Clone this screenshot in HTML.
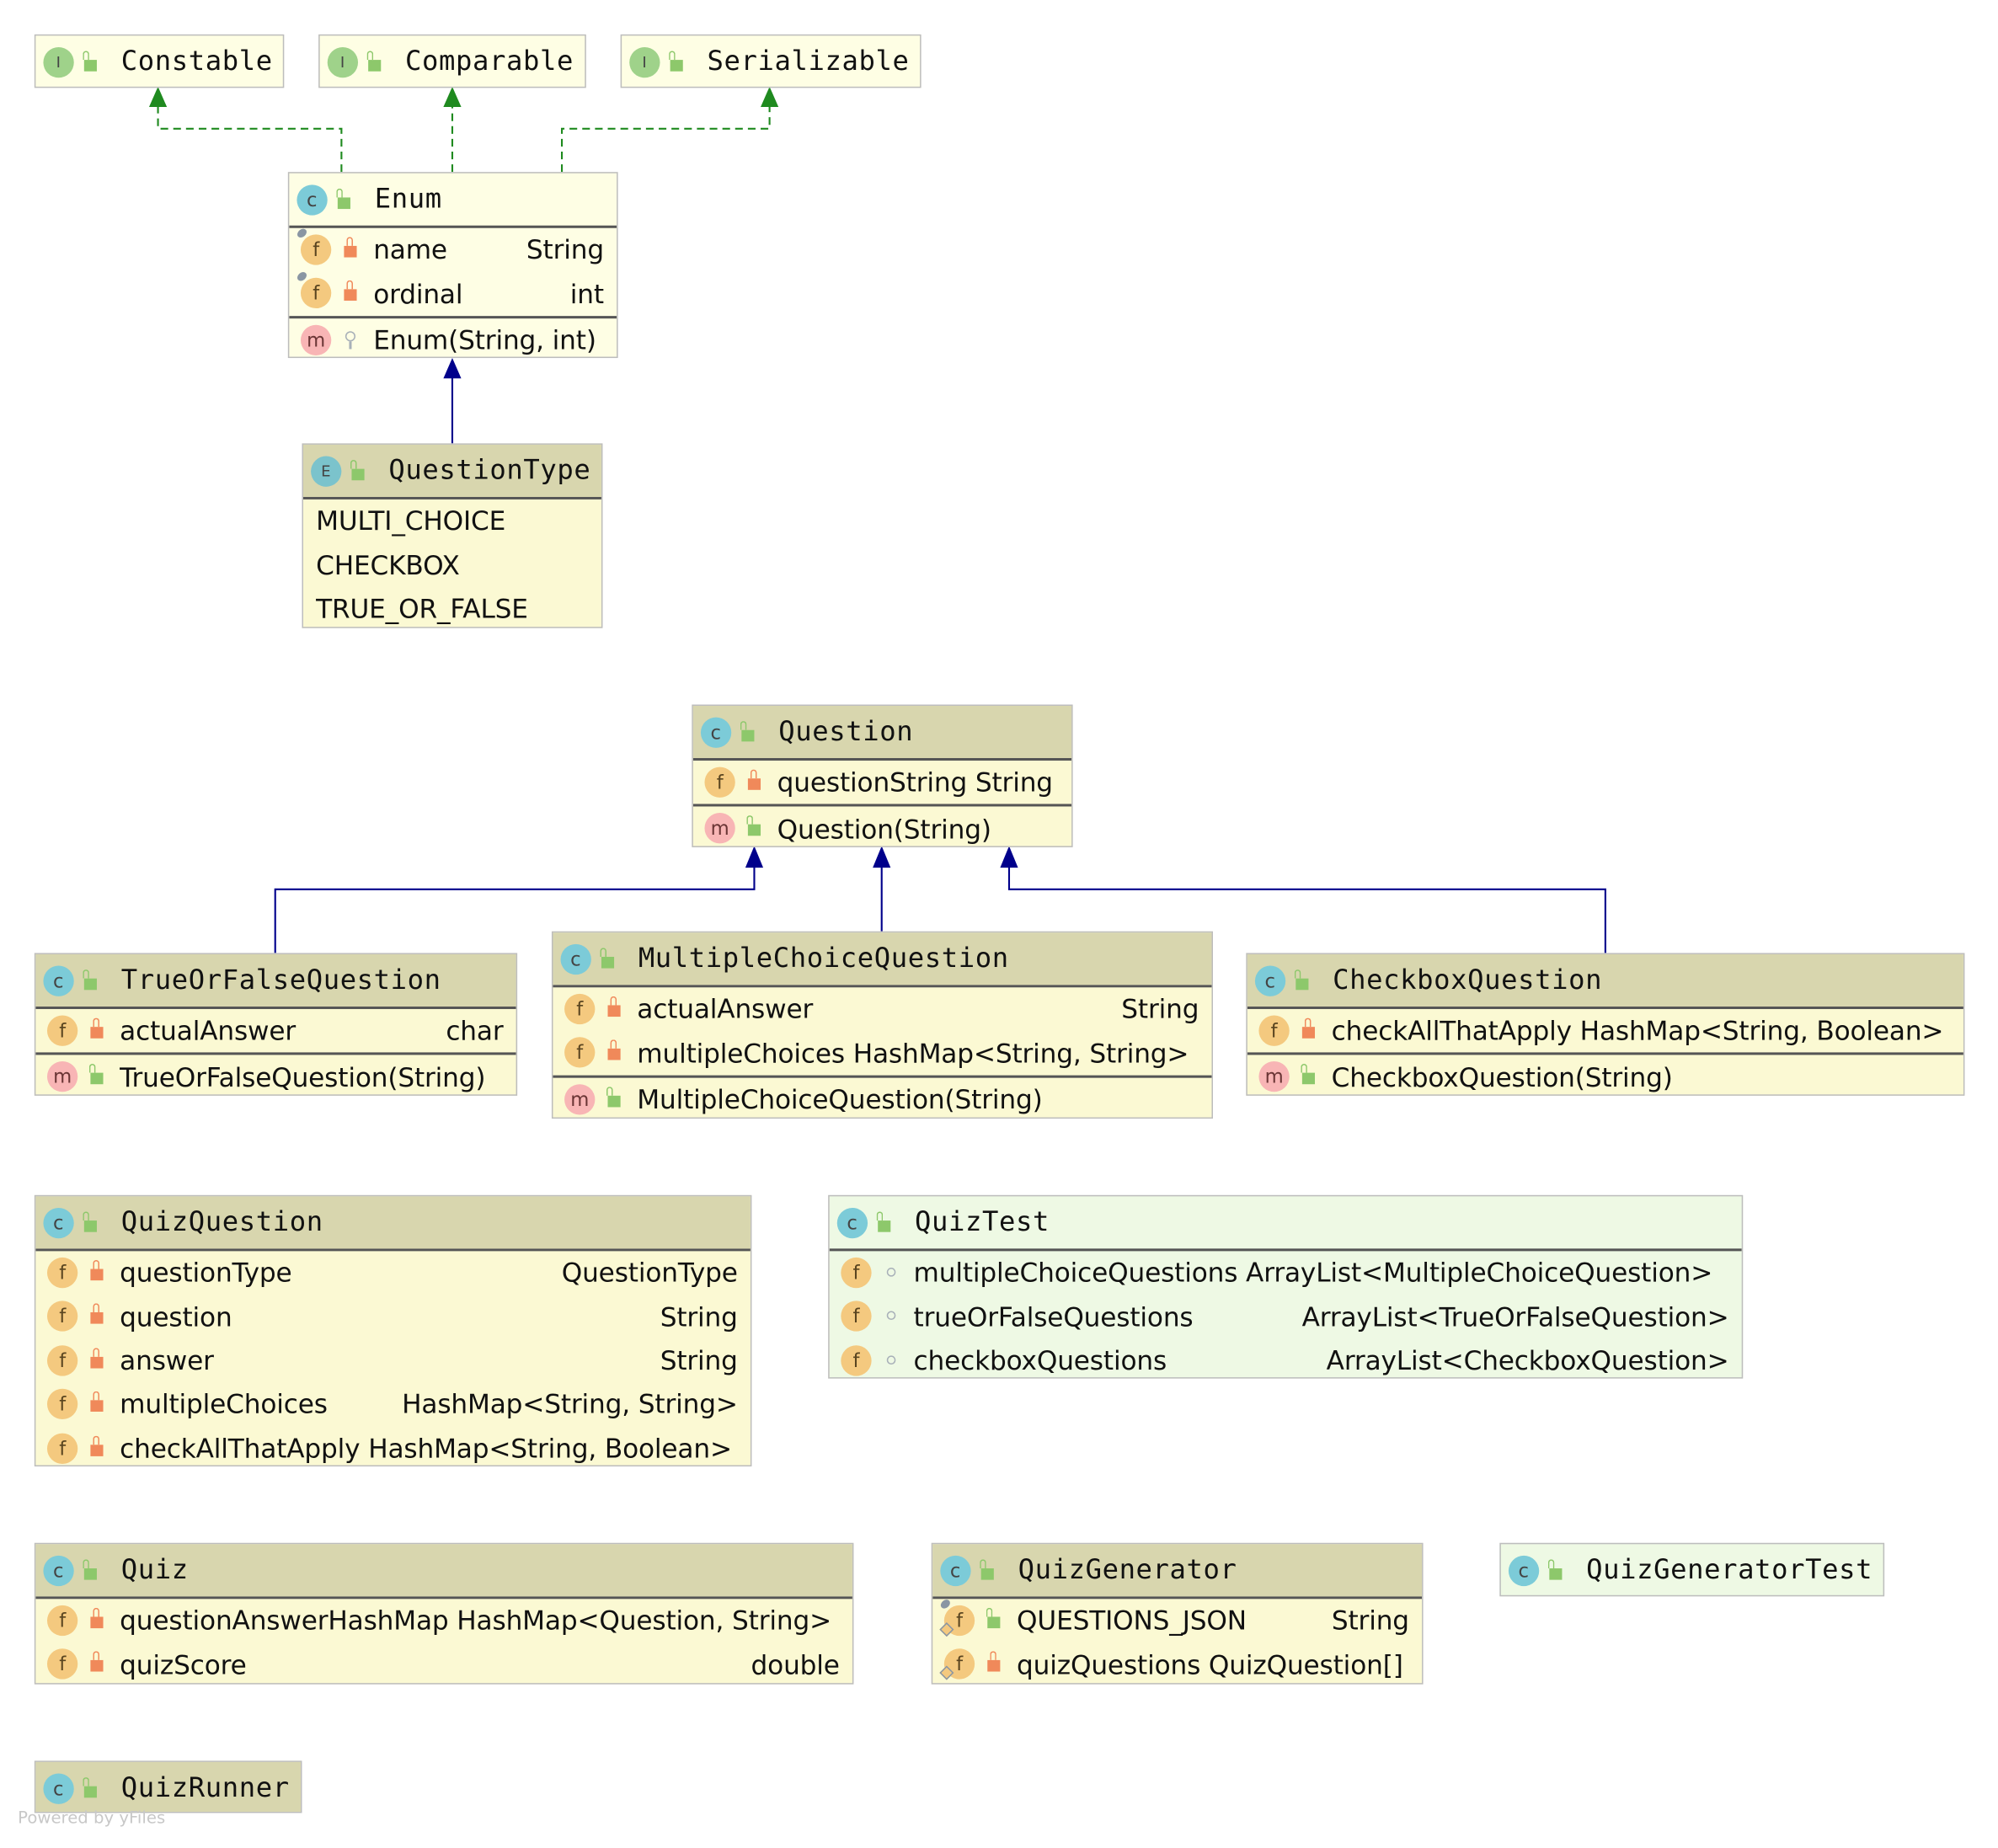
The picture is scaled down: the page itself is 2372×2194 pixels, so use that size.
<!DOCTYPE html>
<html><head><meta charset="utf-8"><style>
html,body{margin:0;padding:0;background:#fff;width:2372px;height:2194px;overflow:hidden}
#c{position:absolute;left:0;top:0;width:1570px;height:1450px;transform:scale(1.5126,1.5126);transform-origin:0 0}
.box{position:absolute;border:1px solid #bdbdbd;box-sizing:border-box;background:#fbf9d3;overflow:hidden}
.box.pale{background:#fefee4}
.box.test{background:#eef9e4}
.hd{height:41px;position:relative;background:#d8d6ae;font-family:"DejaVu Sans Mono","Liberation Mono",monospace;font-size:21.3px;line-height:41px;padding-left:67px;white-space:nowrap;color:#111;letter-spacing:0.4px}
.pale .hd,.test .hd{background:transparent}
.sep{border-top:2px solid #555}
.row{height:34.4px;position:relative;padding-left:66px;padding-right:10px;display:flex;justify-content:space-between;align-items:center;font-family:"DejaVu Sans","Liberation Sans",sans-serif;font-size:20.6px;letter-spacing:-0.1px;white-space:nowrap;color:#111}
.row.plain{padding-left:10px}
.ic{position:absolute;width:24px;height:24px;border-radius:50%;font-family:"DejaVu Sans",sans-serif;font-size:15px;line-height:24px;text-align:center;color:#444}
.hd .ic{left:6px;top:8.5px}
.row .ic{left:9px;top:5px}
.f{background:#f4c97f;color:#5a4520}
.m{background:#f8b5b5;color:#6a3535}
.C{background:#7ccbd8}
.I{background:#9fd28a;font-size:12px}
.E{background:#7bc3cc;font-size:12px}
.lk{position:absolute;width:10px;height:9px;background:#8dc86b}
.hd .lk{left:38px;top:19px}
.row .lk{left:43px;top:14px}
.lk::before{content:"";position:absolute;left:-1px;top:-7px;width:3px;height:6px;border:1.8px solid #8dc86b;border-bottom:none;border-radius:3px 3px 0 0}
.lk.p{background:#f0895a}
.lk.p::before{left:1.5px;border-color:#f0895a}
.dot{position:absolute;left:45px;top:13px;width:5px;height:5px;border:1.6px solid #a8b0b8;border-radius:50%}
.key{position:absolute;left:44px;top:10px;width:6px;height:6px;border:1.6px solid #a8b0b8;border-radius:50%}
.key::after{content:"";position:absolute;left:2px;top:7px;width:2px;height:6px;background:#a8b0b8}
.pin{position:absolute;left:-3px;top:-4px;width:8px;height:6px;background:#8a96a3;border-radius:50%;transform:rotate(-40deg)}
.dia{position:absolute;left:-2px;top:15px;width:6px;height:6px;border:1.5px solid #8a96a3;transform:rotate(45deg);background:#f4c97f}
#pw{position:absolute;left:14px;top:1420px;font-family:"DejaVu Sans","Liberation Sans",sans-serif;font-size:13px;color:#c8c8c8}
</style></head><body><div id="c">
<svg width="1570" height="1450" style="position:absolute;left:0;top:0">
<g fill="none" stroke="#1f8a1f" stroke-width="1.4" stroke-dasharray="6,4">
<polyline points="268,135 268,101 124,101 124,82"/>
<polyline points="355,135 355,82"/>
<polyline points="441,135 441,101 604,101 604,82"/>
</g>
<g fill="#1f8a1f"><polygon points="124,68 117,84 131,84"/><polygon points="355,68 348,84 362,84"/><polygon points="604,68 597,84 611,84"/></g>
<g fill="none" stroke="#00008b" stroke-width="1.4">
<polyline points="355,348 355,295"/>
<polyline points="592,680 592,698 216,698 216,748"/>
<polyline points="692,680 692,731"/>
<polyline points="792,680 792,698 1260,698 1260,748"/>
</g>
<g fill="#00008b"><polygon points="355,281 348,297 362,297"/><polygon points="592,664 585,681 599,681"/><polygon points="692,664 685,681 699,681"/><polygon points="792,664 785,681 799,681"/></g>
</svg>

<div class="box pale" style="left:27px;top:27px;width:196px;height:42px"><div class="hd"><span class="ic I">I</span><span class="lk"></span>Constable</div></div>
<div class="box pale" style="left:250px;top:27px;width:210px;height:42px"><div class="hd"><span class="ic I">I</span><span class="lk"></span>Comparable</div></div>
<div class="box pale" style="left:487px;top:27px;width:236px;height:42px"><div class="hd"><span class="ic I">I</span><span class="lk"></span>Serializable</div></div>

<div class="box pale" style="left:226px;top:135px;width:259px;height:146px"><div class="hd"><span class="ic C">c</span><span class="lk"></span>Enum</div>
<div class="sep"></div>
<div class="row"><span class="ic f">f<span class="pin"></span></span><span class="lk p"></span><span>name</span><span>String</span></div>
<div class="row"><span class="ic f">f<span class="pin"></span></span><span class="lk p"></span><span>ordinal</span><span>int</span></div>
<div class="sep"></div>
<div class="row"><span class="ic m">m</span><span class="key"></span><span>Enum(String, int)</span><span></span></div></div>

<div class="box" style="left:237px;top:348px;width:236px;height:145px"><div class="hd"><span class="ic E">E</span><span class="lk"></span>QuestionType</div>
<div class="sep"></div>
<div class="row plain"><span>MULTI_CHOICE</span></div>
<div class="row plain"><span>CHECKBOX</span></div>
<div class="row plain"><span>TRUE_OR_FALSE</span></div></div>

<div class="box" style="left:543px;top:553px;width:299px;height:112px"><div class="hd"><span class="ic C">c</span><span class="lk"></span>Question</div>
<div class="sep"></div>
<div class="row"><span class="ic f">f</span><span class="lk p"></span><span>questionString String</span></div>
<div class="sep"></div>
<div class="row"><span class="ic m">m</span><span class="lk"></span><span>Question(String)</span></div></div>

<div class="box" style="left:27px;top:748px;width:379px;height:112px"><div class="hd"><span class="ic C">c</span><span class="lk"></span>TrueOrFalseQuestion</div>
<div class="sep"></div>
<div class="row"><span class="ic f">f</span><span class="lk p"></span><span>actualAnswer</span><span>char</span></div>
<div class="sep"></div>
<div class="row"><span class="ic m">m</span><span class="lk"></span><span>TrueOrFalseQuestion(String)</span></div></div>

<div class="box" style="left:433px;top:731px;width:519px;height:147px"><div class="hd"><span class="ic C">c</span><span class="lk"></span>MultipleChoiceQuestion</div>
<div class="sep"></div>
<div class="row"><span class="ic f">f</span><span class="lk p"></span><span>actualAnswer</span><span>String</span></div>
<div class="row"><span class="ic f">f</span><span class="lk p"></span><span>multipleChoices HashMap&lt;String, String&gt;</span></div>
<div class="sep"></div>
<div class="row"><span class="ic m">m</span><span class="lk"></span><span>MultipleChoiceQuestion(String)</span></div></div>

<div class="box" style="left:978px;top:748px;width:564px;height:112px"><div class="hd"><span class="ic C">c</span><span class="lk"></span>CheckboxQuestion</div>
<div class="sep"></div>
<div class="row"><span class="ic f">f</span><span class="lk p"></span><span>checkAllThatApply HashMap&lt;String, Boolean&gt;</span></div>
<div class="sep"></div>
<div class="row"><span class="ic m">m</span><span class="lk"></span><span>CheckboxQuestion(String)</span></div></div>

<div class="box" style="left:27px;top:938px;width:563px;height:213px"><div class="hd"><span class="ic C">c</span><span class="lk"></span>QuizQuestion</div>
<div class="sep"></div>
<div class="row"><span class="ic f">f</span><span class="lk p"></span><span>questionType</span><span>QuestionType</span></div>
<div class="row"><span class="ic f">f</span><span class="lk p"></span><span>question</span><span>String</span></div>
<div class="row"><span class="ic f">f</span><span class="lk p"></span><span>answer</span><span>String</span></div>
<div class="row"><span class="ic f">f</span><span class="lk p"></span><span>multipleChoices</span><span>HashMap&lt;String, String&gt;</span></div>
<div class="row"><span class="ic f">f</span><span class="lk p"></span><span>checkAllThatApply HashMap&lt;String, Boolean&gt;</span></div></div>

<div class="box test" style="left:650px;top:938px;width:718px;height:144px"><div class="hd"><span class="ic C">c</span><span class="lk"></span>QuizTest</div>
<div class="sep"></div>
<div class="row"><span class="ic f">f</span><span class="dot"></span><span>multipleChoiceQuestions ArrayList&lt;MultipleChoiceQuestion&gt;</span></div>
<div class="row"><span class="ic f">f</span><span class="dot"></span><span>trueOrFalseQuestions</span><span>ArrayList&lt;TrueOrFalseQuestion&gt;</span></div>
<div class="row"><span class="ic f">f</span><span class="dot"></span><span>checkboxQuestions</span><span>ArrayList&lt;CheckboxQuestion&gt;</span></div></div>

<div class="box" style="left:27px;top:1211px;width:643px;height:111px"><div class="hd"><span class="ic C">c</span><span class="lk"></span>Quiz</div>
<div class="sep"></div>
<div class="row"><span class="ic f">f</span><span class="lk p"></span><span>questionAnswerHashMap HashMap&lt;Question, String&gt;</span></div>
<div class="row"><span class="ic f">f</span><span class="lk p"></span><span>quizScore</span><span>double</span></div></div>

<div class="box" style="left:731px;top:1211px;width:386px;height:111px"><div class="hd"><span class="ic C">c</span><span class="lk"></span>QuizGenerator</div>
<div class="sep"></div>
<div class="row"><span class="ic f">f<span class="pin"></span><span class="dia"></span></span><span class="lk"></span><span>QUESTIONS_JSON</span><span>String</span></div>
<div class="row"><span class="ic f">f<span class="dia"></span></span><span class="lk p"></span><span>quizQuestions QuizQuestion[]</span></div></div>

<div class="box test" style="left:1177px;top:1211px;width:302px;height:42px"><div class="hd"><span class="ic C">c</span><span class="lk"></span>QuizGeneratorTest</div></div>

<div class="box" style="left:27px;top:1382px;width:210px;height:41px"><div class="hd"><span class="ic C">c</span><span class="lk"></span>QuizRunner</div></div>

<div id="pw">Powered by yFiles</div>
</div></body></html>
